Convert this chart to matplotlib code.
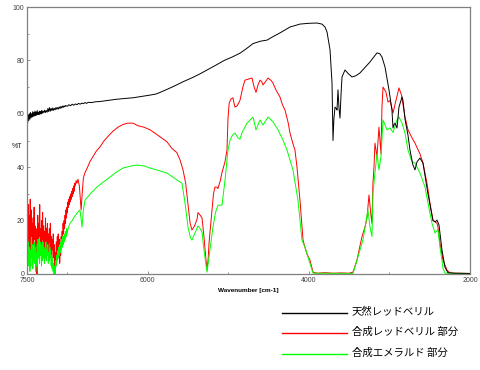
import matplotlib
matplotlib.use("Agg")
import matplotlib.pyplot as plt
from matplotlib.lines import Line2D

# IR transmission spectra, (wavenumber cm-1, %T)
NATURAL = [
    (7500, 58.0), (7492, 56.5), (7485, 59.5), (7478, 57.5), (7471, 60.0), (7464, 58.0),
    (7457, 60.5), (7450, 58.5), (7443, 60.0), (7436, 58.8), (7429, 60.8), (7422, 59.0),
    (7415, 60.5), (7408, 59.2), (7401, 61.0), (7394, 59.3), (7387, 60.7), (7380, 59.5),
    (7373, 61.2), (7366, 59.8), (7359, 60.6), (7352, 59.7), (7345, 61.0), (7338, 59.9),
    (7331, 60.9), (7324, 60.0), (7317, 61.3), (7310, 60.2), (7300, 61.0), (7290, 60.4),
    (7280, 61.4), (7270, 60.5), (7260, 61.2), (7250, 60.6), (7240, 62.0), (7230, 60.8),
    (7220, 62.3), (7210, 61.0), (7200, 62.0), (7190, 61.2), (7180, 62.2), (7170, 61.3),
    (7160, 62.0), (7150, 61.5), (7140, 62.4), (7130, 61.7), (7120, 62.3), (7110, 61.8),
    (7100, 62.6), (7090, 62.0), (7080, 62.7), (7070, 62.2), (7060, 62.9), (7050, 62.4),
    (7040, 63.0), (7030, 62.6), (7020, 63.1), (7000, 62.8), (6980, 63.4), (6960, 63.0),
    (6940, 63.6), (6920, 63.2), (6900, 63.7), (6880, 63.4), (6860, 63.9), (6840, 63.6),
    (6820, 64.0), (6800, 63.8), (6780, 64.2), (6760, 63.9), (6740, 64.3), (6700, 64.2),
    (6650, 64.5), (6594, 64.6), (6500, 65.0), (6400, 65.4), (6300, 65.7), (6184, 66.0),
    (6100, 66.4), (5973, 67.0), (5900, 67.4), (5849, 68.0), (5750, 69.3), (5650, 70.7),
    (5563, 72.0), (5450, 73.5), (5350, 75.0), (5265, 76.4), (5150, 78.3), (5050, 80.0),
    (4950, 81.3), (4856, 82.7), (4780, 84.3), (4694, 86.3), (4600, 87.2), (4520, 87.6),
    (4440, 89.0), (4359, 90.3), (4235, 92.5), (4111, 93.6), (4000, 93.9), (3900, 94.0),
    (3838, 93.6), (3800, 92.5), (3775, 90.6), (3738, 84.0), (3713, 71.5), (3701, 50.0),
    (3690, 58.0), (3676, 62.5), (3660, 62.0), (3651, 61.4), (3639, 69.0), (3626, 62.0),
    (3614, 58.4), (3600, 68.0), (3589, 73.8), (3552, 76.4), (3510, 75.0), (3465, 73.8),
    (3420, 74.2), (3366, 75.3), (3300, 77.5), (3242, 79.4), (3155, 82.8), (3120, 82.5),
    (3093, 81.3), (3055, 77.5), (3031, 73.4), (3018, 71.0), (3006, 69.0), (2969, 61.4),
    (2956, 54.7), (2943, 56.0), (2931, 56.5), (2906, 54.7), (2882, 62.5), (2844, 66.3),
    (2832, 65.0), (2807, 58.0), (2770, 52.0), (2745, 46.4), (2710, 41.0), (2683, 39.0),
    (2658, 42.0), (2621, 43.4), (2584, 41.6), (2522, 30.0), (2460, 20.0), (2430, 19.5),
    (2410, 20.2), (2385, 18.4), (2348, 9.0), (2311, 2.6), (2274, 0.5), (2200, 0.3),
    (2000, 0.2),
]

SYN_RED = [
    (7500, 5), (7496, 37), (7490, 12), (7484, 26), (7478, 8), (7472, 22), (7466, 10),
    (7460, 28), (7454, 6), (7448, 24), (7442, 14), (7436, 19), (7430, 9), (7424, 21),
    (7418, 11), (7412, 25), (7406, 13), (7400, 18), (7394, 8), (7388, 17), (7382, 4),
    (7376, 0), (7372, 12), (7366, 22), (7360, 10), (7354, 19), (7348, 14), (7342, 26),
    (7336, 12), (7330, 17), (7324, 9), (7318, 20), (7312, 13), (7306, 23), (7300, 11),
    (7294, 18), (7288, 8), (7282, 16), (7276, 12), (7270, 21), (7264, 9), (7258, 17),
    (7252, 14), (7246, 19), (7240, 7), (7234, 15), (7228, 10), (7222, 17), (7216, 12),
    (7210, 19), (7204, 8), (7198, 14), (7192, 5), (7186, 13), (7180, 9), (7174, 15),
    (7168, 6), (7162, 11), (7156, 3), (7152, 0), (7148, 8), (7142, 4), (7136, 12),
    (7130, 7), (7124, 14), (7118, 9), (7112, 15), (7106, 6), (7100, 13), (7094, 4),
    (7088, 10), (7082, 7), (7076, 14), (7070, 10), (7064, 16), (7058, 13), (7052, 19),
    (7046, 15), (7040, 20), (7034, 17), (7028, 22), (7022, 19), (7016, 24), (7010, 21),
    (7004, 25), (6998, 23), (6992, 27), (6986, 25), (6980, 28), (6974, 26), (6968, 29),
    (6962, 27), (6956, 30), (6950, 28), (6944, 31), (6938, 29), (6932, 32), (6926, 30),
    (6920, 33), (6914, 31), (6908, 34), (6900, 33), (6890, 35), (6880, 34), (6867, 35.5),
    (6850, 33), (6838, 28), (6828, 24), (6815, 30), (6800, 36), (6780, 38), (6755, 39.5),
    (6720, 42), (6680, 44), (6640, 46), (6594, 47.6), (6540, 50), (6480, 52), (6432, 53.5),
    (6370, 55), (6308, 56), (6250, 56.5), (6184, 56.5), (6120, 55.5), (6050, 55),
    (5973, 54), (5900, 52.5), (5830, 51), (5762, 49.5), (5700, 47), (5640, 45.5),
    (5600, 42.7), (5563, 39), (5530, 34), (5501, 26), (5475, 19), (5452, 16.5), (5420, 18),
    (5389, 20.5), (5377, 23), (5350, 22), (5327, 21), (5303, 14), (5280, 6), (5265, 1.5),
    (5250, 6), (5240, 11.6), (5215, 20), (5203, 24), (5185, 30), (5166, 32.6), (5140, 32.5),
    (5129, 32), (5100, 35), (5079, 38), (5042, 42), (5017, 46.4), (5005, 58), (4990, 64),
    (4968, 65.5), (4943, 66), (4930, 64), (4918, 62.5), (4890, 63), (4856, 65), (4820, 70),
    (4794, 72.6), (4750, 73), (4707, 73.4), (4680, 70), (4657, 68), (4630, 71), (4607, 72.6),
    (4585, 72), (4570, 70.8), (4540, 72), (4508, 73.4), (4470, 72.5), (4446, 71.5),
    (4410, 69), (4359, 66.3), (4330, 63.5), (4297, 61.4), (4260, 57), (4235, 52.8),
    (4200, 49), (4173, 46.4), (4148, 40), (4111, 27.7), (4073, 12.7), (4049, 10),
    (4024, 7.5), (3987, 5.2), (3949, 0.7), (3900, 0.3), (3800, 0.5), (3700, 0.3),
    (3600, 0.4), (3500, 0.3), (3453, 0.7), (3403, 5.2), (3370, 10), (3341, 14), (3300, 18),
    (3279, 21), (3254, 29.6), (3230, 22), (3217, 19), (3205, 34), (3192, 40), (3180, 49),
    (3155, 44), (3130, 55), (3105, 45), (3093, 62.5), (3080, 70), (3060, 69), (3043, 68),
    (3018, 64.4), (2993, 65), (2956, 60.3), (2919, 65), (2882, 69.7), (2850, 67),
    (2807, 58.8), (2770, 54), (2720, 51), (2683, 49), (2621, 45), (2584, 41.6), (2534, 34),
    (2497, 26.6), (2460, 20.2), (2410, 19), (2398, 17.6), (2373, 11.6), (2336, 5.2),
    (2286, 1.5), (2249, 0.4), (2200, 0.3), (2000, 0.2),
]

SYN_GREEN = [
    (7500, 2), (7495, 14), (7488, 4), (7482, 12), (7476, 3), (7470, 10), (7464, 1),
    (7458, 9), (7452, 3), (7446, 13), (7440, 6), (7434, 11), (7428, 2), (7422, 9),
    (7416, 5), (7410, 12), (7404, 4), (7398, 10), (7392, 1), (7386, 8), (7380, 3),
    (7374, 11), (7368, 5), (7362, 13), (7356, 6), (7350, 10), (7344, 4), (7338, 12),
    (7332, 7), (7326, 11), (7320, 3), (7314, 9), (7308, 5), (7302, 12), (7296, 6),
    (7290, 10), (7284, 4), (7278, 9), (7272, 6), (7266, 12), (7260, 5), (7254, 9),
    (7248, 7), (7242, 11), (7236, 4), (7230, 8), (7224, 5), (7218, 10), (7212, 6),
    (7206, 9), (7200, 3), (7194, 7), (7188, 2), (7182, 6), (7176, 1), (7170, 4), (7164, 0),
    (7158, 3), (7152, 0), (7146, 2), (7140, 5), (7134, 3), (7128, 7), (7122, 5), (7116, 8),
    (7110, 6), (7104, 10), (7098, 7), (7092, 11), (7086, 8), (7080, 12), (7074, 9),
    (7068, 13), (7062, 10), (7056, 14), (7050, 11), (7044, 14), (7038, 12), (7032, 15),
    (7026, 13), (7020, 16), (7014, 14), (7008, 17), (7003, 15), (6990, 17), (6966, 19),
    (6940, 20), (6910, 21.5), (6879, 22.8), (6842, 24), (6830, 21), (6817, 17.6),
    (6800, 24), (6780, 27.7), (6700, 30.5), (6631, 32.6), (6550, 34.5), (6470, 36.3),
    (6400, 38), (6308, 39.7), (6200, 40.5), (6134, 40.8), (6050, 40.5), (5973, 39.7),
    (5870, 38.8), (5762, 37.8), (5700, 36.5), (5638, 35.2), (5576, 34), (5538, 26.6),
    (5501, 17.6), (5470, 13.5), (5452, 12.7), (5414, 15.4), (5377, 18), (5350, 17),
    (5327, 15.7), (5303, 9), (5265, 0.7), (5240, 6.4), (5191, 17.6), (5160, 23),
    (5129, 25.8), (5079, 25.8), (5042, 35), (5005, 46.4), (4980, 50), (4950, 52),
    (4918, 52.8), (4880, 51), (4856, 50.5), (4830, 53), (4794, 55), (4769, 56.5),
    (4694, 58.8), (4657, 54), (4607, 57.7), (4570, 55.8), (4508, 58.8), (4446, 57),
    (4384, 54), (4322, 50.2), (4272, 46.4), (4198, 39), (4136, 27.7), (4086, 12.7),
    (4049, 10), (3987, 4), (3949, 0.3), (3453, 0.2), (3391, 6.4), (3329, 12.7), (3267, 24),
    (3242, 17.6), (3217, 14), (3205, 30), (3180, 37.8), (3155, 45), (3130, 39), (3105, 44),
    (3080, 57.7), (3031, 54), (2993, 54.7), (2956, 53), (2906, 57.7), (2882, 58.8),
    (2844, 56.5), (2807, 52.8), (2770, 46.4), (2720, 42), (2683, 41.6), (2621, 37.8),
    (2559, 32.6), (2522, 26.6), (2472, 19), (2435, 15.4), (2398, 16.5), (2373, 10),
    (2348, 5.2), (2336, 2.2), (2311, 0.3), (2000, 0.2),
]

LABELS = ["天然レッドベリル", "合成レッドベリル 部分", "合成エメラルド 部分"]
COLORS = ["black", "#ff0000", "#00ff00"]
X_MAJOR = [7500, 6000, 4000, 2000]
X_MINOR = [7000, 5000, 3000]

plt.rcParams["font.family"] = ["Liberation Sans", "DejaVu Sans"]

fig = plt.figure(figsize=(4.8, 3.7), dpi=100)
ax = fig.add_axes([27 / 480, 1 - 274 / 370, 443 / 480, 267 / 370])

for data, col in [(SYN_RED, COLORS[1]), (SYN_GREEN, COLORS[2]), (NATURAL, COLORS[0])]:
    wn, t = zip(*data)
    ax.plot(wn, t, color=col, lw=0.7)

ax.set_xlim(7500, 2000)
ax.set_ylim(0, 100)
ax.set_xticks(X_MAJOR)
ax.set_xticks(X_MINOR, minor=True)
ax.set_yticks(range(0, 101, 20))
ax.set_yticks(range(10, 100, 20), minor=True)
ax.tick_params(which="both", direction="in", labelsize=5, colors="#808080",
               labelcolor="#404040", pad=2, width=0.6)
ax.tick_params(which="major", length=2.5)
ax.tick_params(which="minor", length=1.5)
for s in ax.spines.values():
    s.set_color("#808080")
    s.set_linewidth(0.9)

ax.set_xlabel("Wavenumber [cm-1]", fontsize=4.6, fontweight="bold", labelpad=3)
fig.text(12 / 480, 1 - 146 / 370, "%T", fontsize=5, va="center", ha="left", color="#202020")

# legend below the plot, drawn by hand to match the reference placement
for i, (lab, col) in enumerate(zip(LABELS, COLORS)):
    y = 1 - (312.5 + 20.5 * i) / 370
    fig.add_artist(Line2D([282 / 480, 347 / 480], [y, y], color=col, lw=1.0,
                          transform=fig.transFigure))
    fig.text(352 / 480, y + 0.002, lab, fontsize=7.5, va="center", ha="left",
             family=["Noto Sans CJK JP", "DejaVu Sans"])

fig.savefig("out.png", dpi=100)
